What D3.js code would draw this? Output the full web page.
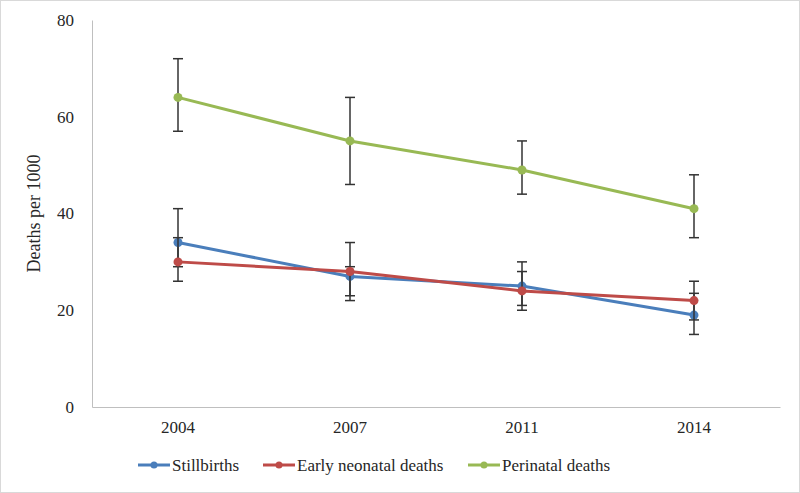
<!DOCTYPE html>
<html>
<head>
<meta charset="utf-8">
<script src="https://cdn.jsdelivr.net/npm/d3@7"></script>
<style>
  body { margin: 0; background: #fff; }
  text { font-family: "Liberation Serif", "Times New Roman", serif; fill: #262626; }
</style>
</head>
<body>
<svg id="chart"></svg>
<script>
// data
const years = ["2004", "2007", "2011", "2014"];
const seriesNames = ["Stillbirths", "Early neonatal deaths", "Perinatal deaths"];
const stillbirths = [34, 27, 25, 19];
const stillLow = [29, 23, 21, 15];
const stillHigh = [41, 29, 30, 23.5];
const neonatal = [30, 28, 24, 22];
const neoLow = [26, 22, 20, 18];
const neoHigh = [35, 34, 28, 26];
const perinatal = [64, 55, 49, 41];
const periLow = [57, 46, 44, 35];
const periHigh = [72, 64, 55, 48];
const yTicks = [0, 20, 40, 60, 80];
const colors = ["#4a7ebb", "#be4b48", "#98b954"];

const width = 800, height = 493;
const margin = {top: 20, right: 20, bottom: 86, left: 92};

const svg = d3.select("#chart")
    .attr("width", width)
    .attr("height", height);

// outer frame
svg.append("rect")
    .attr("x", 0.5).attr("y", 0.5)
    .attr("width", width - 1).attr("height", height - 1)
    .attr("fill", "none")
    .attr("stroke", "#d9d9d9");

const x = d3.scaleBand()
    .domain(years)
    .range([margin.left, width - margin.right]);

const y = d3.scaleLinear()
    .domain([0, 80])
    .range([height - margin.bottom, margin.top]);

// axes
const xAxisG = svg.append("g")
    .attr("transform", `translate(0,${y(0)})`)
    .call(d3.axisBottom(x).tickSize(0).tickPadding(14));
xAxisG.select(".domain").attr("stroke", "#bfbfbf");
xAxisG.selectAll("text").style("font-size", "17px").style("font-family", "Liberation Serif, serif").attr("fill", "#262626");

const yAxisG = svg.append("g")
    .attr("transform", `translate(${margin.left},0)`)
    .call(d3.axisLeft(y).tickValues(yTicks).tickSize(0).tickPadding(18));
yAxisG.select(".domain").attr("stroke", "#bfbfbf");
yAxisG.selectAll("text").style("font-size", "17px").style("font-family", "Liberation Serif, serif").attr("fill", "#262626");

svg.append("text")
    .attr("transform", `translate(40,${(y(0) + y(80)) / 2}) rotate(-90)`)
    .attr("text-anchor", "middle")
    .style("font-size", "18px")
    .text("Deaths per 1000");

const series = [
  {name: seriesNames[0], vals: stillbirths, lo: stillLow, hi: stillHigh, color: colors[0]},
  {name: seriesNames[1], vals: neonatal, lo: neoLow, hi: neoHigh, color: colors[1]},
  {name: seriesNames[2], vals: perinatal, lo: periLow, hi: periHigh, color: colors[2]}
];

const cx = d => x(d) + x.bandwidth() / 2;

const line = d3.line()
    .x(d => cx(d.year))
    .y(d => y(d.v));

series.forEach(s => {
  const pts = years.map((yr, i) => ({year: yr, v: s.vals[i], lo: s.lo[i], hi: s.hi[i]}));

  svg.append("path")
      .datum(pts)
      .attr("fill", "none")
      .attr("stroke", s.color)
      .attr("stroke-width", 3)
      .attr("d", line);

  // error bars
  const eb = svg.append("g").attr("stroke", "#333").attr("stroke-width", 1.5);
  eb.selectAll("line.v").data(pts).enter().append("line")
      .attr("x1", d => cx(d.year)).attr("x2", d => cx(d.year))
      .attr("y1", d => y(d.lo)).attr("y2", d => y(d.hi));
  eb.selectAll("line.lo").data(pts).enter().append("line")
      .attr("x1", d => cx(d.year) - 5).attr("x2", d => cx(d.year) + 5)
      .attr("y1", d => y(d.lo)).attr("y2", d => y(d.lo));
  eb.selectAll("line.hi").data(pts).enter().append("line")
      .attr("x1", d => cx(d.year) - 5).attr("x2", d => cx(d.year) + 5)
      .attr("y1", d => y(d.hi)).attr("y2", d => y(d.hi));

  svg.append("g").selectAll("circle")
      .data(pts).enter().append("circle")
      .attr("cx", d => cx(d.year))
      .attr("cy", d => y(d.v))
      .attr("r", 4.5)
      .attr("fill", s.color);
});

// legend
const legendX = [138, 263, 468];
const legend = svg.append("g").attr("transform", "translate(0,465)");
series.forEach((s, i) => {
  legend.append("line")
      .attr("x1", legendX[i]).attr("x2", legendX[i] + 32)
      .attr("stroke", s.color).attr("stroke-width", 3);
  legend.append("circle")
      .attr("cx", legendX[i] + 16).attr("r", 3.5)
      .attr("fill", s.color);
  legend.append("text")
      .attr("x", legendX[i] + 34)
      .attr("dy", "0.35em")
      .style("font-size", "17px")
      .text(s.name);
});
</script>
</body>
</html>
